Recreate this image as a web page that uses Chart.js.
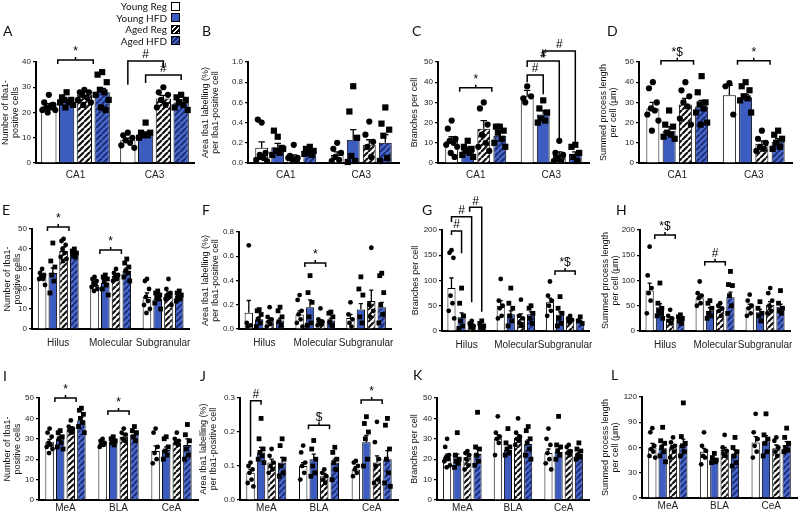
<!DOCTYPE html>
<html>
<head>
<meta charset="utf-8">
<script src="https://cdn.jsdelivr.net/npm/chart.js@4.4.0/dist/chart.umd.min.js"></script>
<style>
  body { margin: 0; background: #fff; }
  #fig { position: relative; width: 800px; height: 514px; overflow: hidden; background: #fff; }
  #fig canvas { position: absolute; }
  .letter { position: absolute; font: 14px Lato, "Liberation Sans", sans-serif; line-height: 1; color: #111; }
  .lg { position: absolute; left: 80px; width: 87px; text-align: right; font: 10px Lato, sans-serif; line-height: 12px; color: #111; }
  .sw { position: absolute; left: 171px; width: 7px; height: 7px; border: 1.3px solid #000; }
</style>
</head>
<body>
<div id="fig"></div>
<script>
// Grupos y categorias
const groupNames = ['Young Reg', 'Young HFD', 'Aged Reg', 'Aged HFD'];
const hippoCats = ['CA1', 'CA3'];
const dgCats = ['Hilus', 'Molecular', 'Subgranular'];
const amyCats = ['MeA', 'BLA', 'CeA'];

const cellTitle = ['Number of Iba1-', 'positive cells'];
const areaTitle = ['Area Iba1 labelling (%)', 'per Iba1-positive cell'];
const branchTitle = 'Branches per cell';
const lengthTitle = ['Summed process length', 'per cell (\u03bcm)'];

// Medias, SEM y puntos: [grupo][categoria]
const aMean = [[22.5, 9], [24.5, 11.5], [27, 25.5], [28, 24]];
const aSem = [[1, 0.8], [0.8, 0.8], [1, 1.3], [1.5, 0.9]];
const aPts = [
  [[27, 24, 23, 22, 22, 21, 21, 20, 23], [12, 11, 10, 9, 8, 7, 6]],
  [[28, 26, 25, 25, 24, 24, 23, 22], [16, 12, 12, 11, 11, 10]],
  [[29, 28, 28, 27, 26, 25, 24, 23], [30, 28, 27, 25, 23, 22]],
  [[36, 35, 32, 29, 28, 27, 25, 22, 21], [27, 26, 25, 24, 23, 22, 21]]
];
const aMarks = [
  ['brace', 0, 0.5, 2.5, 40.8, 0, 0, '*'],
  ['line', 1, 0, 2, 40.4, 31, 37.6, '#'],
  ['line', 1, 1, 3, 34.9, 31.7, 32.9, '#']
];

const bMean = [[0.15, 0.08], [0.155, 0.23], [0.06, 0.18], [0.11, 0.20]];
const bSem = [[0.06, 0.03], [0.04, 0.1], [0.02, 0.05], [0.02, 0.08]];
const bPts = [
  [[0.40, 0.43, 0.10, 0.08, 0.05, 0.03, 0.02, 0.06], [0.20, 0.14, 0.10, 0.06, 0.03, 0.02]],
  [[0.26, 0.32, 0.15, 0.12, 0.10, 0.08, 0.14], [0.76, 0.51, 0.25, 0.07, 0.02, 0.01]],
  [[0.18, 0.07, 0.05, 0.04, 0.03, 0.05], [0.41, 0.28, 0.21, 0.16, 0.06]],
  [[0.16, 0.14, 0.12, 0.10, 0.08, 0.09], [0.55, 0.39, 0.33, 0.27, 0.05, 0.02]]
];
const bMarks = [];

const cMean = [[11, 33], [6.5, 24], [17, 4], [13.5, 4.5]];
const cSem = [[2, 3], [1.5, 2], [4, 1.5], [2, 1]];
const cPts = [
  [[21, 17, 12, 11, 10, 9, 8, 5, 3], [38, 32, 33, 30]],
  [[11, 8, 7, 6, 5, 4, 3], [31, 27, 25, 22, 21, 20]],
  [[30, 27, 19, 14, 10, 8, 6], [11, 5, 4, 2, 1, 1]],
  [[18, 18, 16, 15, 12, 10, 8], [9, 8, 5, 3, 1]]
];
const cMarks = [
  ['brace', 0, 0.5, 2.5, 37.3, 0, 0, '*'],
  ['line', 1, 0, 1, 43.6, 40, 34, '#'],
  ['line', 1, 0, 2, 50.5, 47.5, 11.4, '#'],
  ['line', 1, 1, 3, 55.4, 52.5, 9.9, '#']
];

const dMean = [[27, 33.5], [16, 32.5], [29, 9.5], [28, 10.5]];
const dSem = [[3, 5], [2, 1.5], [3, 1.5], [3, 1.5]];
const dPts = [
  [[40, 37, 30, 27, 26, 24, 21, 16], [39.5, 38, 24]],
  [[26, 19, 18, 15, 14, 13, 12], [40, 38, 36, 33, 32, 31, 25]],
  [[40, 36, 33, 30, 28, 22, 19], [16, 12, 10, 8, 7, 6]],
  [[43, 35, 30, 29, 27, 25, 20, 19], [16, 14, 12, 10, 8, 7]]
];
const dMarks = [
  ['brace', 0, 0.5, 2.5, 50.6, 0, 0, '*$'],
  ['brace', 1, 0.5, 2.5, 50.6, 0, 0, '*']
];

const eMean = [[26, 22, 16], [28, 23, 15], [39, 26.5, 17.5], [38, 29, 16.5]];
const eSem = [[1, 1, 2], [2.5, 1.5, 1.5], [2, 1, 1], [1, 1.5, 1]];
const ePts = [
  [[30, 28, 27, 26, 25, 25, 22], [26, 25, 24, 23, 22, 21, 20, 19], [25, 24, 20, 16, 14, 12, 10, 8]],
  [[43, 34, 31, 27, 24, 18], [27, 26, 25, 24, 22, 20, 17], [19, 18, 17, 16, 15, 13, 10]],
  [[45, 44, 42, 40, 38, 36, 35, 34], [30, 28, 27, 26, 25, 24], [25, 20, 18, 17, 16, 15, 12]],
  [[40, 39, 38, 37, 36], [35, 33, 31, 29, 28, 26, 24], [19, 18, 17, 16, 15, 14]]
];
const eMarks = [
  ['brace', 0, 0.5, 2.5, 51, 0, 0, '*'],
  ['brace', 1, 0.5, 2.5, 39.5, 0, 0, '*']
];

const fMean = [[0.135, 0.12, 0.09], [0.08, 0.18, 0.16], [0.07, 0.065, 0.23], [0.07, 0.07, 0.18]];
const fSem = [[0.1, 0.03, 0.03], [0.02, 0.06, 0.05], [0.02, 0.01, 0.09], [0.02, 0.02, 0.04]];
const fPts = [
  [[0.69, 0.05, 0.03, 0.02], [0.28, 0.24, 0.15, 0.12, 0.08, 0.05, 0.02], [0.22, 0.12, 0.08, 0.05, 0.02]],
  [[0.16, 0.15, 0.12, 0.08, 0.05, 0.02], [0.44, 0.30, 0.22, 0.10, 0.05, 0.03], [0.43, 0.33, 0.28, 0.10, 0.05]],
  [[0.18, 0.10, 0.08, 0.06, 0.04, 0.02], [0.17, 0.08, 0.06, 0.05, 0.04, 0.03], [0.67, 0.20, 0.15, 0.10]],
  [[0.18, 0.15, 0.10, 0.06, 0.03], [0.14, 0.13, 0.10, 0.06, 0.03], [0.46, 0.44, 0.30, 0.20, 0.12, 0.05]]
];
const fMarks = [['brace', 1, 0.5, 2.5, 0.544, 0, 0, '*']];

const gMean = [[85, 50, 57], [27, 33, 32], [12, 28, 23], [10, 33, 18]];
const gSem = [[20, 10, 8], [9, 7, 6], [3, 6, 3], [2, 5, 3]];
const gPts = [
  [[160, 155, 145, 70, 55, 40, 25], [103, 60, 50, 45, 30, 25], [98, 70, 60, 50, 40, 30]],
  [[85, 55, 30, 20, 10, 5], [85, 55, 45, 30, 20, 10], [68, 45, 35, 25, 15, 10]],
  [[20, 15, 10, 8, 5], [62, 30, 25, 15, 10], [30, 25, 22, 18]],
  [[20, 15, 10, 8, 5], [50, 45, 35, 25, 15], [28, 20, 15]]
];
const gMarks = [
  ['line', 0, 0, 1, 198, 190, 154, '#'],
  ['line', 0, 0, 2, 226, 216, 57, '#'],
  ['line', 0, 1.8, 3, 245, 236, 38, '#'],
  ['brace', 2, 0.5, 2.5, 119, 0, 0, '*$']
];

const hMean = [[80, 65, 47], [47, 40, 37], [25, 42, 52], [22, 67, 48]];
const hSem = [[15, 6, 6], [7, 6, 6], [3, 5, 6], [2, 10, 5]];
const hPts = [
  [[167, 110, 85, 75, 60, 35], [98, 75, 70, 65, 55, 50], [72, 60, 50, 45, 35, 30]],
  [[95, 55, 45, 40, 35, 30, 25], [60, 55, 45, 35, 30, 25], [58, 45, 35, 30, 20]],
  [[42, 30, 25, 20, 15], [55, 50, 45, 40, 30], [85, 75, 60, 50, 40, 35]],
  [[32, 28, 25, 20, 15], [118, 92, 90, 70, 50, 35], [80, 55, 45, 40, 35]]
];
const hMarks = [
  ['brace', 0, 0.5, 2.5, 190, 0, 0, '*$'],
  ['brace', 1, 0.5, 2.5, 137, 0, 0, '#']
];

const iMean = [[28.5, 28, 24], [30, 28.5, 24.5], [35, 31, 28], [39, 32, 27]];
const iSem = [[1.2, 0.7, 2.5], [1.3, 0.7, 1.5], [1, 1, 1], [1.5, 1, 3]];
const iPts = [
  [[35, 33, 31, 28, 27, 26, 25, 23], [30, 29, 28, 27, 27, 26], [35, 33, 26, 23, 20, 18]],
  [[34, 33, 31, 30, 28, 26, 25], [31, 30, 29, 28, 27], [31, 30, 26, 24, 22, 20]],
  [[39, 36, 35, 34, 33], [35, 33, 32, 30, 29], [33, 30, 29, 28, 27]],
  [[45, 44, 42, 40, 38, 36, 33], [36, 34, 33, 31, 29], [37, 32, 29, 25, 22, 20]]
];
const iMarks = [
  ['brace', 0, 0.5, 2.5, 50, 0, 0, '*'],
  ['brace', 1, 0.5, 2.5, 43.6, 0, 0, '*']
];

const jMean = [[0.08, 0.10, 0.09], [0.14, 0.12, 0.17], [0.11, 0.07, 0.11], [0.11, 0.11, 0.12]];
const jSem = [[0.01, 0.01, 0.008], [0.015, 0.015, 0.02], [0.01, 0.008, 0.02], [0.015, 0.01, 0.025]];
const jPts = [
  [[0.11, 0.10, 0.09, 0.08, 0.06, 0.05, 0.04], [0.16, 0.14, 0.11, 0.10, 0.08, 0.06], [0.115, 0.11, 0.10, 0.09, 0.08, 0.07]],
  [[0.24, 0.18, 0.15, 0.14, 0.13, 0.12, 0.11], [0.175, 0.15, 0.12, 0.10, 0.08, 0.07], [0.245, 0.225, 0.20, 0.18, 0.12, 0.10]],
  [[0.15, 0.13, 0.11, 0.10, 0.09, 0.08], [0.09, 0.08, 0.07, 0.06, 0.05], [0.23, 0.17, 0.12, 0.10, 0.06, 0.05]],
  [[0.18, 0.16, 0.12, 0.10, 0.08, 0.07], [0.155, 0.14, 0.12, 0.11, 0.09, 0.06], [0.24, 0.22, 0.15, 0.12, 0.08, 0.05, 0.04]]
];
const jMarks = [
  ['line', 0, 0, 1, 0.292, 0.127, 0.28, '#'],
  ['brace', 1, 0.5, 2.5, 0.22, 0, 0, '$'],
  ['brace', 2, 0.5, 2.5, 0.294, 0, 0, '*']
];

const kMean = [[21, 30, 23], [21, 24.5, 23.5], [21, 30.5, 23.5], [22.5, 27.5, 22.5]];
const kSem = [[1.5, 2, 2], [1.5, 1.2, 1.5], [1.3, 1.5, 1], [2.5, 2, 1]];
const kPts = [
  [[30, 26, 22, 21, 20, 19, 17, 16], [41, 33, 31, 30, 28, 22], [35, 30, 27, 23, 20, 18, 15]],
  [[33, 22, 20, 19, 18, 16], [35, 28, 26, 25, 23, 22], [41, 27, 26, 24, 22, 20]],
  [[24, 23, 22, 20, 17, 15], [40, 33, 31, 30, 29, 27], [27, 26, 24, 23, 22]],
  [[43, 26, 25, 22, 19, 17], [36, 34, 30, 28, 25, 22, 20], [28, 25, 24, 22, 21, 20]]
];
const kMarks = [];

const lMean = [[60, 55, 66], [59, 45, 67], [59, 57, 59], [63, 52, 63]];
const lSem = [[5, 4, 7], [4, 2, 7], [3, 3, 4], [7, 5, 4]];
const lPts = [
  [[83, 78, 62, 58, 55, 50, 48], [78, 62, 56, 50, 48, 40], [100, 78, 70, 62, 55, 48]],
  [[84, 68, 65, 60, 55, 50, 43], [53, 48, 45, 44, 43, 42], [100, 75, 70, 65, 55, 50]],
  [[72, 66, 62, 60, 55, 48], [75, 60, 56, 52, 50], [72, 68, 60, 55, 50]],
  [[113, 73, 65, 62, 55, 50], [72, 60, 55, 50, 42, 38], [83, 72, 65, 60, 57, 55]]
];
const lMarks = [];

// Geometria por fila
const rows = {
  1: { top: 20, xh: 25, pad: 6, r: 3.1, spread: 0.5 },
  2: { top: 190, xh: 25, pad: 8, r: 2.4, spread: 0.4 },
  3: { top: 358, xh: 14, pad: 2, r: 2.4, spread: 0.4 }
};

const panels = [
  { id: 'A', row: 1, left: 0, axis: 36, right: 194, top: 62, bottom: 163, lx: 3, ly: 24, cats: hippoCats, max: 40, step: 10, dec: 0, title: cellTitle, mean: aMean, sem: aSem, pts: aPts, marks: aMarks, cp: 0.9, bp: 0.86 },
  { id: 'B', row: 1, left: 200, axis: 248, right: 399, top: 62, bottom: 163, lx: 202, ly: 24, cats: hippoCats, max: 1, step: 0.2, dec: 1, title: areaTitle, mean: bMean, sem: bSem, pts: bPts, marks: bMarks, cp: 0.85, bp: 0.8 },
  { id: 'C', row: 1, left: 409, axis: 438, right: 589, top: 62, bottom: 163, lx: 412, ly: 24, cats: hippoCats, max: 50, step: 10, dec: 0, title: branchTitle, mean: cMean, sem: cSem, pts: cPts, marks: cMarks, cp: 0.85, bp: 0.8 },
  { id: 'D', row: 1, left: 598, axis: 639, right: 792, top: 62, bottom: 163, lx: 607, ly: 24, cats: hippoCats, max: 50, step: 10, dec: 0, title: lengthTitle, mean: dMean, sem: dSem, pts: dPts, marks: dMarks, cp: 0.85, bp: 0.8 },
  { id: 'E', row: 2, left: 2, axis: 32, right: 195, top: 229, bottom: 329, lx: 2, ly: 203, cats: dgCats, max: 50, step: 10, dec: 0, title: cellTitle, mean: eMean, sem: eSem, pts: ePts, marks: eMarks, cp: 0.82, bp: 0.8 },
  { id: 'F', row: 2, left: 200, axis: 239, right: 398, top: 232, bottom: 329, lx: 202, ly: 203, cats: dgCats, max: 0.8, step: 0.2, dec: 1, title: areaTitle, mean: fMean, sem: fSem, pts: fPts, marks: fMarks, cp: 0.82, bp: 0.8 },
  { id: 'G', row: 2, left: 410, axis: 442, right: 597, top: 230, bottom: 331, lx: 422, ly: 203, cats: dgCats, max: 200, step: 50, dec: 0, title: branchTitle, mean: gMean, sem: gSem, pts: gPts, marks: gMarks, cp: 0.82, bp: 0.8 },
  { id: 'H', row: 2, left: 600, axis: 640, right: 797, top: 230, bottom: 331, lx: 616, ly: 203, cats: dgCats, max: 200, step: 50, dec: 0, title: lengthTitle, mean: hMean, sem: hSem, pts: hPts, marks: hMarks, cp: 0.82, bp: 0.8 },
  { id: 'I', row: 3, left: 2, axis: 39, right: 198, top: 398, bottom: 500, lx: 3, ly: 369, cats: amyCats, max: 50, step: 10, dec: 0, title: cellTitle, mean: iMean, sem: iSem, pts: iPts, marks: iMarks, cp: 0.8, bp: 0.8 },
  { id: 'J', row: 3, left: 198, axis: 240, right: 398, top: 398, bottom: 500, lx: 200, ly: 369, cats: amyCats, max: 0.3, step: 0.1, dec: 1, title: areaTitle, mean: jMean, sem: jSem, pts: jPts, marks: jMarks, cp: 0.8, bp: 0.8 },
  { id: 'K', row: 3, left: 409, axis: 437, right: 589, top: 398, bottom: 500, lx: 413, ly: 368, cats: amyCats, max: 50, step: 10, dec: 0, title: branchTitle, mean: kMean, sem: kSem, pts: kPts, marks: kMarks, cp: 0.8, bp: 0.8 },
  { id: 'L', row: 3, left: 600, axis: 642, right: 797, top: 397, bottom: 498, lx: 611, ly: 368, cats: amyCats, max: 120, step: 30, dec: 0, title: lengthTitle, mean: lMean, sem: lSem, pts: lPts, marks: lMarks, cp: 0.8, bp: 0.8 }
];

const FONT = '"Liberation Sans", Arial, sans-serif';
const BLUE = '#3D5CC0';
const jitter = [0, -0.6, 0.6, -0.3, 0.3, -0.85, 0.85, -0.15, 0.45];

function hatch(bg, fg) {
    const s = 6;
    const c = document.createElement('canvas');
    c.width = s;
    c.height = s;
    const x = c.getContext('2d');
    x.fillStyle = bg;
    x.fillRect(0, 0, s, s);
    x.strokeStyle = fg;
    x.lineWidth = 2.2;
    x.beginPath();
    for (const o of [-s, 0, s]) {
        x.moveTo(o, s);
        x.lineTo(o + s, 0);
    }
    x.stroke();
    return x.createPattern(c, 'repeat');
}

const fills = ['#ffffff', BLUE, hatch('#ffffff', '#111111'), hatch('#4A6BD0', '#1F2F78')];
const swatchCss = [
    '#fff',
    BLUE,
    'repeating-linear-gradient(135deg, #000 0 2px, #fff 2px 3.5px)',
    'repeating-linear-gradient(135deg, #1F2F78 0 2px, #4A6BD0 2px 3.5px)'
];

function barX(chart, c, f) {
    const i = Math.min(Math.floor(f), 3);
    const x0 = chart.getDatasetMeta(i).data[c].x;
    if (f - i <= 0 || i >= 3) return x0;
    const x1 = chart.getDatasetMeta(i + 1).data[c].x;
    return x0 + (f - i) * (x1 - x0);
}

// Barras de error, puntos individuales y marcas de significancia
function overlayPlugin(p) {
    const { r, spread } = rows[p.row];
    return {
        id: 'overlay' + p.id,
        afterDatasetsDraw(chart) {
            const ctx = chart.ctx;
            const ys = chart.scales.y;
            ctx.save();
            ctx.strokeStyle = '#000';
            ctx.fillStyle = '#000';

            p.mean.forEach((row, g) => {
                const meta = chart.getDatasetMeta(g);
                row.forEach((m, c) => {
                    const bar = meta.data[c];
                    const yTop = ys.getPixelForValue(m + p.sem[g][c]);
                    const cap = bar.width * 0.25;
                    ctx.lineWidth = 1.3;
                    ctx.beginPath();
                    ctx.moveTo(bar.x, bar.y);
                    ctx.lineTo(bar.x, yTop);
                    ctx.moveTo(bar.x - cap, yTop);
                    ctx.lineTo(bar.x + cap, yTop);
                    ctx.stroke();

                    p.pts[g][c].forEach((v, k) => {
                        const px = bar.x + jitter[k % jitter.length] * bar.width * spread;
                        const py = ys.getPixelForValue(v);
                        if (g % 2 === 0) {
                            ctx.beginPath();
                            ctx.arc(px, py, r, 0, Math.PI * 2);
                            ctx.fill();
                        } else {
                            ctx.fillRect(px - r, py - r, r * 2, r * 2);
                        }
                    });
                });
            });

            ctx.lineWidth = 1.5;
            ctx.font = '12px ' + FONT;
            ctx.textAlign = 'center';
            ctx.textBaseline = 'bottom';
            p.marks.forEach(([type, c, a, b, top, la, lb, text]) => {
                const x1 = barX(chart, c, a);
                const x2 = barX(chart, c, b);
                const py = ys.getPixelForValue(top);
                ctx.beginPath();
                if (type === 'brace') {
                    const mid = (x1 + x2) / 2;
                    ctx.moveTo(x1, py + 4);
                    ctx.lineTo(x1, py);
                    ctx.lineTo(x2, py);
                    ctx.lineTo(x2, py + 4);
                    ctx.moveTo(mid, py);
                    ctx.lineTo(mid, py - 3);
                } else {
                    ctx.moveTo(x1, ys.getPixelForValue(la));
                    ctx.lineTo(x1, py);
                    ctx.lineTo(x2, py);
                    ctx.lineTo(x2, ys.getPixelForValue(lb));
                }
                ctx.stroke();
                ctx.fillText(text, (x1 + x2) / 2, py - (type === 'brace' ? 2 : 0));
            });
            ctx.restore();
        }
    };
}

const fig = document.getElementById('fig');

function crearPanel(p) {
    const row = rows[p.row];
    const canvas = document.createElement('canvas');
    canvas.width = p.right - p.left + 4;
    canvas.height = p.bottom - row.top + row.xh;
    canvas.style.left = p.left + 'px';
    canvas.style.top = row.top + 'px';
    fig.appendChild(canvas);

    const letter = document.createElement('div');
    letter.className = 'letter';
    letter.textContent = p.id;
    letter.style.left = p.lx + 'px';
    letter.style.top = p.ly + 'px';
    fig.appendChild(letter);

    new Chart(canvas, {
        type: 'bar',
        data: {
            labels: p.cats,
            datasets: p.mean.map((m, g) => ({
                label: groupNames[g],
                data: m,
                backgroundColor: fills[g],
                borderColor: '#000',
                borderWidth: 1,
                categoryPercentage: p.cp,
                barPercentage: p.bp
            }))
        },
        options: {
            responsive: false,
            animation: false,
            layout: { padding: { top: p.top - row.top, right: 4, left: 0, bottom: 0 } },
            plugins: { legend: { display: false }, tooltip: { enabled: false } },
            scales: {
                x: {
                    grid: { display: false, drawTicks: false },
                    border: { color: '#000', width: 2 },
                    ticks: {
                        color: '#222',
                        padding: row.pad,
                        maxRotation: 0,
                        minRotation: 0,
                        autoSkip: false,
                        font: { family: FONT, size: 10 }
                    },
                    afterFit: s => { s.height = row.xh; }
                },
                y: {
                    min: 0,
                    max: p.max,
                    grid: { drawOnChartArea: false, tickLength: 3, color: '#000', lineWidth: 1.2 },
                    border: { color: '#000', width: 2 },
                    ticks: {
                        stepSize: p.step,
                        padding: 2,
                        color: '#222',
                        font: { family: FONT, size: 8 },
                        callback: v => Number(v).toFixed(p.dec)
                    },
                    title: {
                        display: true,
                        text: p.title,
                        color: '#111',
                        padding: 0,
                        font: { family: FONT, size: 9, lineHeight: 1.15 }
                    },
                    afterFit: s => { s.width = p.axis - p.left; }
                }
            }
        },
        plugins: [overlayPlugin(p)]
    });
}

panels.forEach(crearPanel);

// Leyenda
const legendCenters = [6, 17.5, 29, 40.5];
groupNames.forEach((name, g) => {
    const t = document.createElement('div');
    t.className = 'lg';
    t.textContent = name;
    t.style.top = (legendCenters[g] - 6) + 'px';
    fig.appendChild(t);
    const sw = document.createElement('div');
    sw.className = 'sw';
    sw.style.top = (legendCenters[g] - 4.5) + 'px';
    sw.style.background = swatchCss[g];
    fig.appendChild(sw);
});
</script>
</body>
</html>
